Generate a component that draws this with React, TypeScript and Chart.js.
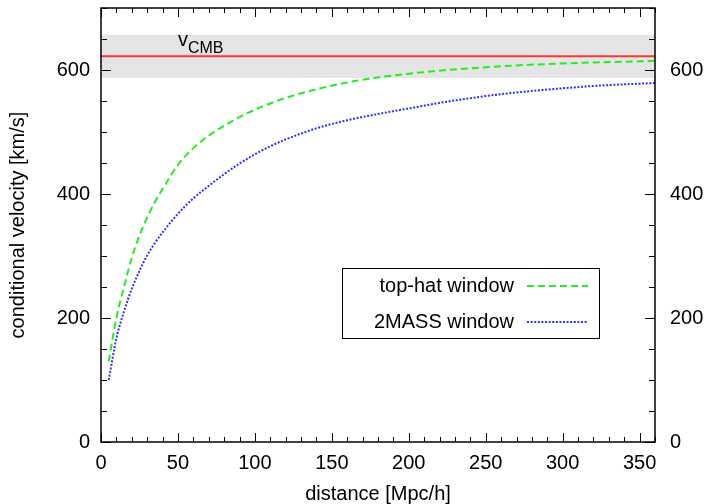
import React, { useEffect, useRef } from 'react';
import { Chart, registerables } from 'chart.js';

Chart.register(...registerables);

// distance [Mpc/h]
const distance = [5, 10, 15, 20, 25, 30, 35, 40, 50, 60, 70, 80, 90, 100, 110, 120, 140, 160, 180, 200, 225, 250, 275, 300, 325, 350, 360];
// conditional velocity [km/s]
const topHat = [130, 200, 251, 297, 333, 362, 387, 408, 447, 474, 494, 510, 524, 536, 546, 555, 569, 580, 588, 594, 600, 604.5, 608, 610.5, 612.5, 614, 614.5];
const twoMass = [100, 167, 211, 247, 276, 301, 321, 338, 368, 393, 413, 432, 449, 464, 477, 488, 506, 519, 529, 538, 549, 558, 565, 570.5, 575, 578, 579];
const seriesNames = ['top-hat window', '2MASS window'];
const vCMB = 622;
const vCMBErr = 35;
const xRange = [0, 360];
const yRange = [0, 700];
const xMajorTicks = [0, 50, 100, 150, 200, 250, 300, 350];
const yMajorTicks = [0, 200, 400, 600];
const xMinorStep = 10;
const yMinorStep = 50;

const FONT = 'Liberation Sans, Arial, Helvetica, sans-serif';
const GREEN = '#22ee22';
const BLUE = '#3030ff';
const RED = '#ff3535';
const GREEN_DASH = [7, 4];
const BLUE_DASH = [2, 1.6];

const framePlugin = {
  id: 'frameTicks',
  afterDatasetsDraw(chart: any) {
    const { ctx, chartArea: a, scales } = chart;
    const xs = scales.x;
    const ys = scales.y;
    ctx.save();
    ctx.strokeStyle = '#000';
    ctx.lineWidth = 1;
    for (let v = xRange[0]; v <= xRange[1]; v += xMinorStep) {
      const major = xMajorTicks.includes(v);
      const len = major ? 9 : 5;
      const px = Math.round(xs.getPixelForValue(v)) + 0.5;
      ctx.beginPath();
      ctx.moveTo(px, a.bottom);
      ctx.lineTo(px, a.bottom - len);
      ctx.moveTo(px, a.top);
      ctx.lineTo(px, a.top + len);
      ctx.stroke();
    }
    for (let v = yRange[0]; v <= yRange[1]; v += yMinorStep) {
      const major = yMajorTicks.includes(v);
      const len = major ? 10 : 6;
      const py = Math.round(ys.getPixelForValue(v)) + 0.5;
      ctx.beginPath();
      ctx.moveTo(a.left, py);
      ctx.lineTo(a.left + len, py);
      ctx.moveTo(a.right, py);
      ctx.lineTo(a.right - len, py);
      ctx.stroke();
    }
    ctx.lineWidth = 1.5;
    ctx.strokeRect(a.left, a.top, a.right - a.left, a.bottom - a.top);

    // v_CMB label
    const lx = xs.getPixelForValue(50);
    const ly = ys.getPixelForValue(vCMB);
    ctx.fillStyle = '#000';
    ctx.textAlign = 'left';
    ctx.textBaseline = 'alphabetic';
    ctx.font = `20px ${FONT}`;
    ctx.fillText('v', lx, ly - 10);
    const vw = ctx.measureText('v').width;
    ctx.font = `16px ${FONT}`;
    ctx.fillText('CMB', lx + vw, ly - 3);

    // legend
    const bx = a.right - 313;
    const by = a.top + 260;
    const bw = 257;
    const bh = 70;
    ctx.lineWidth = 1;
    ctx.strokeStyle = '#000';
    ctx.strokeRect(Math.round(bx) + 0.5, Math.round(by) + 0.5, bw, bh);
    ctx.font = `20px ${FONT}`;
    ctx.textAlign = 'right';
    ctx.textBaseline = 'middle';
    const rows = [
      { name: seriesNames[0], color: GREEN, dash: GREEN_DASH },
      { name: seriesNames[1], color: BLUE, dash: BLUE_DASH },
    ];
    rows.forEach((r, i) => {
      const ry = by + 18 + i * 36;
      ctx.fillStyle = '#000';
      ctx.fillText(r.name, bx + 172, ry);
      ctx.save();
      ctx.strokeStyle = r.color;
      ctx.lineWidth = 2;
      ctx.setLineDash(r.dash);
      ctx.beginPath();
      ctx.moveTo(bx + 185, ry);
      ctx.lineTo(bx + 246, ry);
      ctx.stroke();
      ctx.restore();
    });
    ctx.restore();
  },
};

export default function App() {
  const ref = useRef<HTMLCanvasElement | null>(null);
  useEffect(() => {
    if (!ref.current) return;
    const font = { family: FONT, size: 20 };
    const yFit = (w: number) => (s: any) => {
      s.width = w;
      s.paddingTop = 0;
      s.paddingBottom = 0;
    };
    const chart = new Chart(ref.current, {
      type: 'line',
      data: {
        datasets: [
          {
            label: seriesNames[0],
            data: distance.map((d, i) => ({ x: d, y: topHat[i] })),
            borderColor: GREEN,
            borderWidth: 2,
            borderDash: GREEN_DASH,
            pointRadius: 0,
            cubicInterpolationMode: 'monotone',
            fill: false,
          },
          {
            label: seriesNames[1],
            data: distance.map((d, i) => ({ x: d, y: twoMass[i] })),
            borderColor: BLUE,
            borderWidth: 2,
            borderDash: BLUE_DASH,
            pointRadius: 0,
            cubicInterpolationMode: 'monotone',
            fill: false,
          },
          {
            label: 'vCMB',
            data: [
              { x: xRange[0], y: vCMB },
              { x: xRange[1], y: vCMB },
            ],
            borderColor: RED,
            borderWidth: 2,
            pointRadius: 0,
            fill: false,
          },
          {
            label: 'band',
            data: [
              { x: xRange[0], y: vCMB + vCMBErr },
              { x: xRange[1], y: vCMB + vCMBErr },
            ],
            borderWidth: 0,
            borderColor: 'rgba(0,0,0,0)',
            backgroundColor: '#e5e5e5',
            pointRadius: 0,
            fill: { value: vCMB - vCMBErr },
          },
        ],
      },
      options: {
        animation: false,
        responsive: true,
        maintainAspectRatio: false,
        layout: { padding: { left: 6, right: 0, top: 8, bottom: 0 } },
        plugins: { legend: { display: false }, tooltip: { enabled: false } },
        scales: {
          x: {
            type: 'linear',
            min: xRange[0],
            max: xRange[1],
            afterBuildTicks: (s: any) => {
              s.ticks = xMajorTicks.map((v) => ({ value: v }));
            },
            afterFit: (s: any) => {
              s.height = 62;
              s.paddingLeft = 0;
              s.paddingRight = 0;
            },
            grid: { display: false, drawTicks: false },
            border: { display: false },
            ticks: { font, color: '#000', padding: 9, maxRotation: 0, autoSkip: false },
            title: { display: true, text: 'distance [Mpc/h]', font, color: '#000', padding: { top: 0, bottom: -2 } },
          },
          y: {
            type: 'linear',
            position: 'left',
            min: yRange[0],
            max: yRange[1],
            afterBuildTicks: (s: any) => {
              s.ticks = yMajorTicks.map((v) => ({ value: v }));
            },
            afterFit: yFit(95),
            grid: { display: false, drawTicks: false },
            border: { display: false },
            ticks: { font, color: '#000', padding: 11, autoSkip: false },
            title: { display: true, text: 'conditional velocity [km/s]', font, color: '#000', padding: 0 },
          },
          y2: {
            type: 'linear',
            position: 'right',
            min: yRange[0],
            max: yRange[1],
            afterBuildTicks: (s: any) => {
              s.ticks = yMajorTicks.map((v) => ({ value: v }));
            },
            afterFit: yFit(55),
            grid: { display: false, drawTicks: false },
            border: { display: false },
            ticks: { font, color: '#000', padding: 15, autoSkip: false },
          },
        },
      },
      plugins: [framePlugin],
    } as any);
    return () => chart.destroy();
  }, []);
  return (
    <div style={{ position: 'fixed', left: 0, top: 0, width: 710, height: 504, background: '#fff' }}>
      <canvas ref={ref} />
    </div>
  );
}
